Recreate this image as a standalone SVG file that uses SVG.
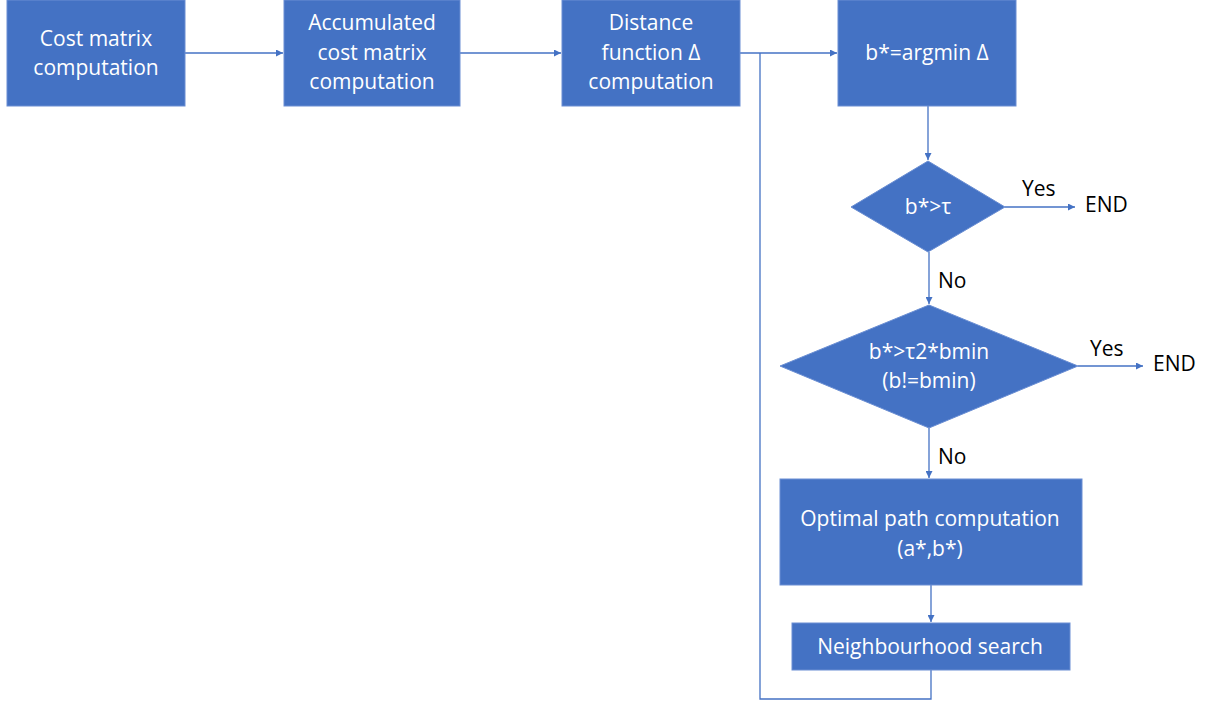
<svg xmlns="http://www.w3.org/2000/svg" width="1207" height="706" viewBox="0 0 1207 706">
<defs>
<style>
.n{fill:#4472C4;stroke:#6A8ED3;stroke-width:1}
.t{font-family:"Open Sans","Noto Sans",sans-serif;font-size:21px;fill:#fff;text-anchor:middle;dominant-baseline:central}
.l{font-family:"Open Sans","Noto Sans",sans-serif;font-size:21px;fill:#000;dominant-baseline:central}
.c{fill:none;stroke:#4472C4;stroke-width:1.3}
</style>
<marker id="a" viewBox="0 0 10 10" refX="10" refY="5" markerWidth="7" markerHeight="7" markerUnits="userSpaceOnUse" orient="auto">
<path d="M0,0 L10,5 L0,10 z" fill="#4472C4"/>
</marker>
</defs>
<rect width="1207" height="706" fill="#fff"/>
<g id="connectors">
<path class="c" d="M185,53 H283" marker-end="url(#a)"/>
<path class="c" d="M460,53 H561" marker-end="url(#a)"/>
<path class="c" d="M740,53 H837" marker-end="url(#a)"/>
<path class="c" d="M928,106 V160" marker-end="url(#a)"/>
<path class="c" d="M1005,207 H1075" marker-end="url(#a)"/>
<path class="c" d="M929,252 V304" marker-end="url(#a)"/>
<path class="c" d="M1078,366 H1143" marker-end="url(#a)"/>
<path class="c" d="M929,428 V478" marker-end="url(#a)"/>
<path class="c" d="M931,585 V622" marker-end="url(#a)"/>
<path class="c" d="M931,670 V699 H760 V53"/>
</g>
<g id="n1"><rect class="n" x="7" y="0" width="178" height="106"/><text class="t" x="96" y="38">Cost matrix</text><text class="t" x="96" y="67">computation</text></g>
<g id="n2"><rect class="n" x="284" y="0" width="176" height="106"/><text class="t" x="372" y="22">Accumulated</text><text class="t" x="372" y="52">cost matrix</text><text class="t" x="372" y="81">computation</text></g>
<g id="n3"><rect class="n" x="562" y="0" width="178" height="106"/><text class="t" x="651" y="22">Distance</text><text class="t" x="651" y="52">function Δ</text><text class="t" x="651" y="81">computation</text></g>
<g id="n4"><rect class="n" x="838" y="0" width="178" height="106"/><text class="t" x="927" y="52">b*=argmin Δ</text></g>
<g id="d1"><polygon class="n" points="928,161 1005,207 928,252 851,207"/><text class="t" x="928" y="206">b*&gt;τ</text></g>
<g id="d2"><polygon class="n" points="929,305 1078,366 929,428 780,366"/><text class="t" x="929" y="351">b*&gt;τ2*bmin</text><text class="t" x="929" y="380">(b!=bmin)</text></g>
<g id="n5"><rect class="n" x="780" y="479" width="302" height="106"/><text class="t" x="930" y="518">Optimal path computation</text><text class="t" x="930" y="548">(a*,b*)</text></g>
<g id="n6"><rect class="n" x="792" y="623" width="278" height="47"/><text class="t" x="930" y="646">Neighbourhood search</text></g>
<g id="labels">
<text class="l" x="1022" y="188">Yes</text>
<text class="l" x="1085" y="204">END</text>
<text class="l" x="938" y="280">No</text>
<text class="l" x="1090" y="348">Yes</text>
<text class="l" x="1153" y="363">END</text>
<text class="l" x="938" y="456">No</text>
</g>
</svg>
